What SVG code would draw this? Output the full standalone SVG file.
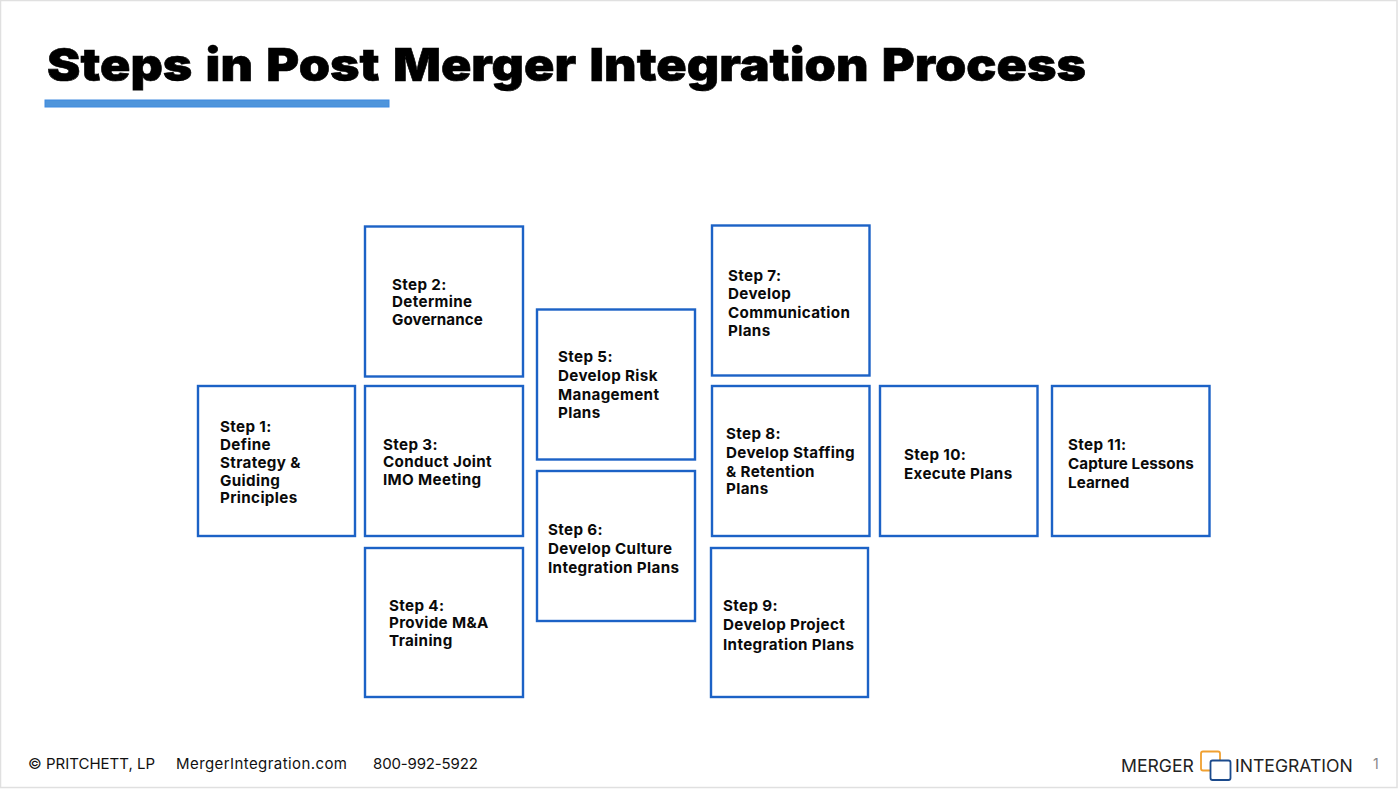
<svg xmlns="http://www.w3.org/2000/svg" width="1400" height="789" viewBox="0 0 1400 789">
<style>
.box{fill:#fff;stroke:#1c62c6;stroke-width:2.400}
.lbl{font-family:"Inter","Noto Sans","Liberation Sans",sans-serif;font-weight:700;font-size:15.200px;letter-spacing:.35px;fill:#0a0a0a;transform:translateY(.7px)}
.tight{letter-spacing:.05px}
.foot{font-family:"Inter","Noto Sans","Liberation Sans",sans-serif;font-size:15px;fill:#111}
.logo{font-family:"Inter","Noto Sans","Liberation Sans",sans-serif;font-size:17.600px;fill:#222}
</style>
<rect x="0" y="0" width="1400" height="789" fill="#fff"/>
<rect x="0.5" y="0.5" width="1396.500" height="787" fill="none" stroke="#e0e0e0" stroke-width="1.500"/>
<g id="title">
<text x="47" y="81" font-family="Inter,'Liberation Sans',sans-serif" font-weight="900" font-size="46px" word-spacing="3" fill="#000" stroke="#000" stroke-width=".6" textLength="1039" lengthAdjust="spacingAndGlyphs">Steps in Post Merger Integration Process</text>
<rect x="45" y="100" width="344" height="7" fill="#4f95db" stroke="#3f8ae0" stroke-width="1"/>
</g>
<g id="connectors"></g>
<g id="step1"><rect class="box" x="198" y="386" width="157" height="150"/>
<text class="lbl" x="220" y="431">Step 1:</text><text class="lbl" x="220" y="449">Define</text><text class="lbl" x="220" y="467">Strategy &amp;</text><text class="lbl" x="220" y="485">Guiding</text><text class="lbl" x="220" y="502">Principles</text></g>
<g id="step2"><rect class="box" x="365" y="226.500" width="158" height="150"/>
<text class="lbl" x="392" y="289">Step 2:</text><text class="lbl" x="392" y="306">Determine</text><text class="lbl tight" x="392" y="324">Governance</text></g>
<g id="step3"><rect class="box" x="365" y="386" width="158" height="150"/>
<text class="lbl" x="383" y="449">Step 3:</text><text class="lbl" x="383" y="466">Conduct Joint</text><text class="lbl" x="383" y="484">IMO Meeting</text></g>
<g id="step4"><rect class="box" x="365" y="548" width="158" height="149"/>
<text class="lbl" x="389" y="610">Step 4:</text><text class="lbl" x="389" y="627">Provide M&amp;A</text><text class="lbl" x="389" y="645">Training</text></g>
<g id="step5"><rect class="box" x="537" y="309.500" width="158" height="150"/>
<text class="lbl" x="558" y="361">Step 5:</text><text class="lbl" x="558" y="380">Develop Risk</text><text class="lbl" x="558" y="399">Management</text><text class="lbl" x="558" y="417">Plans</text></g>
<g id="step6"><rect class="box" x="537" y="471" width="158" height="150"/>
<text class="lbl" x="548" y="534">Step 6:</text><text class="lbl" x="548" y="553">Develop Culture</text><text class="lbl" x="548" y="572">Integration Plans</text></g>
<g id="step7"><rect class="box" x="712" y="225.500" width="157.500" height="150"/>
<text class="lbl" x="728" y="280">Step 7:</text><text class="lbl" x="728" y="298">Develop</text><text class="lbl" x="728" y="317">Communication</text><text class="lbl" x="728" y="335">Plans</text></g>
<g id="step8"><rect class="box" x="712" y="386" width="157.500" height="150"/>
<text class="lbl" x="726" y="438">Step 8:</text><text class="lbl" x="726" y="457">Develop Staffing</text><text class="lbl" x="726" y="476">&amp; Retention</text><text class="lbl" x="726" y="493">Plans</text></g>
<g id="step9"><rect class="box" x="711" y="548" width="157" height="149"/>
<text class="lbl" x="723" y="610">Step 9:</text><text class="lbl" x="723" y="629">Develop Project</text><text class="lbl" x="723" y="649">Integration Plans</text></g>
<g id="step10"><rect class="box" x="880" y="386" width="157.500" height="150"/>
<text class="lbl" x="904" y="459">Step 10:</text><text class="lbl" x="904" y="478">Execute Plans</text></g>
<g id="step11"><rect class="box" x="1052" y="386" width="157.500" height="150"/>
<text class="lbl" x="1068" y="449">Step 11:</text><text class="lbl tight" x="1068" y="468">Capture Lessons</text><text class="lbl tight" x="1068" y="487">Learned</text></g>
<g id="footer">
<text class="foot" x="28" y="769">© PRITCHETT, LP</text>
<text class="foot" x="176" y="769" letter-spacing=".42">MergerIntegration.com</text>
<text class="foot" x="373" y="769" letter-spacing="-.15">800-992-5922</text>
</g>
<g id="logo">
<text class="logo" x="1121" y="772">MERGER</text>
<rect x="1201" y="751.500" width="19" height="19" rx="2" fill="none" stroke="#f0a030" stroke-width="1.800"/>
<rect x="1210.500" y="760.500" width="20" height="19.500" rx="2" fill="#fff" stroke="#1b4a8c" stroke-width="1.800"/>
<text class="logo" x="1235" y="772">INTEGRATION</text>
<text x="1373" y="769" font-family="Inter,'Liberation Sans',sans-serif" font-size="14px" fill="#888">1</text>
</g>
</svg>
